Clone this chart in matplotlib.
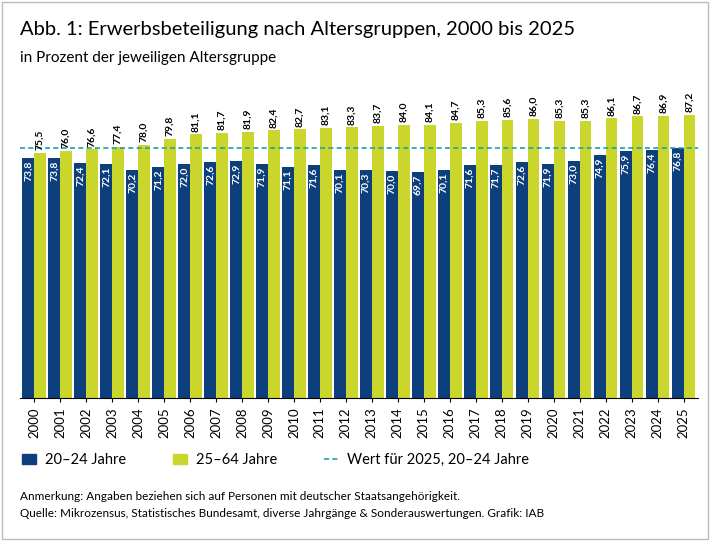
import matplotlib
matplotlib.use("Agg")
import matplotlib.pyplot as plt
import numpy as np

plt.rcParams['font.family'] = ['Lato', 'DejaVu Sans']

years = [str(y) for y in range(2000, 2026)]
young = [73.8,73.8,72.4,72.1,70.2,71.2,72.0,72.6,72.9,71.9,71.1,71.6,70.1,70.3,70.0,69.7,70.1,71.6,71.7,72.6,71.9,73.0,74.9,75.9,76.4,76.8]
older = [75.5,76.0,76.6,77.4,78.0,79.8,81.1,81.7,81.9,82.4,82.7,83.1,83.3,83.7,84.0,84.1,84.7,85.3,85.6,86.0,85.3,85.3,86.1,86.7,86.9,87.2]

BLUE = '#0d3f7c'
GREEN = '#cbd62c'
TEAL = '#1aa3b3'

fig = plt.figure(figsize=(7.1, 5.41), dpi=100)
fig.patches.append(plt.Rectangle((0.003, 0.003), 0.994, 0.994, transform=fig.transFigure,
                                 fill=False, edgecolor='#bbbbbb', lw=1))
ax = fig.add_axes([0.028, 0.264, 0.955, 0.58])
x = np.arange(len(years))
w = 0.45
ax.bar(x - w/2, young, w, color=BLUE)
ax.bar(x + w/2, older, w, color=GREEN)
for i in range(len(years)):
    ax.text(x[i] - w/2, young[i] - 0.8, f"{young[i]:.1f}".replace('.', ','), rotation=90,
            ha='center', va='top', color='white', fontsize=7.5, fontweight='bold')
    ax.text(x[i] + w/2, older[i] + 0.8, f"{older[i]:.1f}".replace('.', ','), rotation=90,
            ha='center', va='bottom', color='black', fontsize=7.5, fontweight='bold')
ax.axhline(young[-1], color=TEAL, ls=(0, (3, 2)), lw=1.2)
ax.set_xlim(-0.55, len(years) - 0.45)
ax.set_ylim(0, 96.5)
ax.set_xticks(x)
ax.set_xticklabels(years, rotation=90, fontsize=9.5)
ax.tick_params(axis='x', length=3)
ax.set_yticks([])
for s in ['top', 'right', 'left']:
    ax.spines[s].set_visible(False)

fig.text(0.028, 0.945, "Abb. 1: Erwerbsbeteiligung nach Altersgruppen, 2000 bis 2025", fontsize=14.5, va='center')
fig.text(0.028, 0.893, "in Prozent der jeweiligen Altersgruppe", fontsize=11, va='center')

from matplotlib.patches import Patch
from matplotlib.lines import Line2D
handles = [Patch(color=BLUE, label='20–24 Jahre'), Patch(color=GREEN, label='25–64 Jahre'),
           Line2D([0], [0], color=TEAL, ls=(0, (3, 2)), lw=1.2, label='Wert für 2025, 20–24 Jahre')]
fig.legend(handles=handles, loc='center left', bbox_to_anchor=(0.012, 0.15), ncol=3, frameon=False,
           fontsize=10.5, handlelength=1.0, columnspacing=3.2, handletextpad=0.6)

fig.text(0.028, 0.083, "Anmerkung: Angaben beziehen sich auf Personen mit deutscher Staatsangehörigkeit.", fontsize=8.5, va='center')
fig.text(0.028, 0.050, "Quelle: Mikrozensus, Statistisches Bundesamt, diverse Jahrgänge & Sonderauswertungen. Grafik: IAB", fontsize=8.5, va='center')

fig.savefig("out.png", dpi=100)
